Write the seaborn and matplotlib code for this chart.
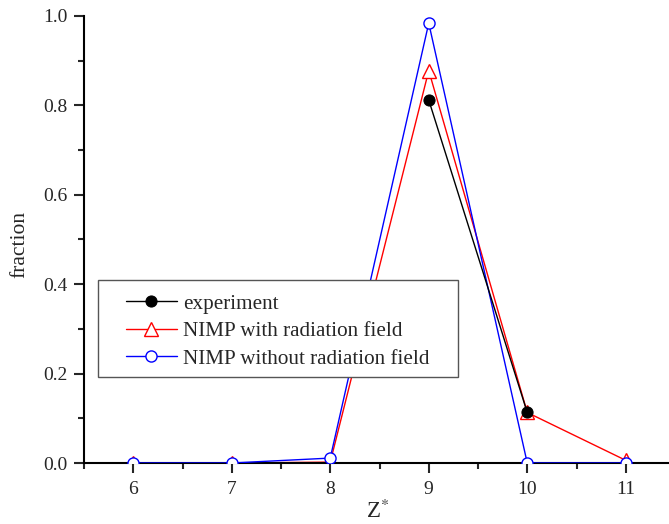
import matplotlib
matplotlib.use("Agg")
import matplotlib.pyplot as plt
import seaborn as sns
from matplotlib.ticker import MultipleLocator
from matplotlib.patches import Rectangle

# Data
exp_x = [9, 10]
exp_y = [0.812, 0.113]
rad_x = [6, 7, 8, 9, 10, 11]
rad_y = [0.0, 0.0, 0.002, 0.878, 0.113, 0.006]
norad_x = [6, 7, 8, 9, 10, 11]
norad_y = [0.0, 0.0, 0.011, 0.984, 0.0, 0.0]
labels = ["experiment", "NIMP with radiation field", "NIMP without radiation field"]
xticks = [6, 7, 8, 9, 10, 11]
yticks = [0.0, 0.2, 0.4, 0.6, 0.8, 1.0]

sns.set_theme(style="ticks")
plt.rcParams["font.family"] = ["Liberation Serif", "DejaVu Serif"]
plt.rcParams["mathtext.fontset"] = "stix"

W, H = 669, 524
L, R, T, B = 84, 675, 16, 463
fig = plt.figure(figsize=(W / 100, H / 100), dpi=100)
ax = fig.add_axes([L / W, 1 - B / H, (R - L) / W, (B - T) / H])

def ax_x(px):
    return (px - L) / (R - L)

def ax_y(py):
    return (B - py) / (B - T)

sns.lineplot(x=rad_x, y=rad_y, ax=ax, color="red", marker="^", markersize=10,
             markerfacecolor="white", markeredgecolor="red", markeredgewidth=1.0,
             linewidth=1.0, label=labels[1], zorder=2)
sns.lineplot(x=norad_x, y=norad_y, ax=ax, color="blue", marker="o", markersize=8,
             markerfacecolor="white", markeredgecolor="blue", markeredgewidth=1.0,
             linewidth=1.0, label=labels[2], zorder=3)
sns.lineplot(x=exp_x, y=exp_y, ax=ax, color="black", marker="o", markersize=8,
             markerfacecolor="black", markeredgecolor="black",
             linewidth=1.0, label=labels[0], zorder=4)
for ln in ax.lines:
    ln.set_clip_on(True)

ax.set_xlim(5.5, 11.5)
ax.set_ylim(0, 1.0)
ax.set_xticks(xticks)
ax.set_yticks(yticks)
ax.set_xticklabels([str(v) for v in xticks])
ax.set_yticklabels([f"{v:.1f}" for v in yticks])
ax.xaxis.set_minor_locator(MultipleLocator(0.5))
ax.yaxis.set_minor_locator(MultipleLocator(0.1))
ax.tick_params(which="major", direction="out", length=7, width=1.5, labelsize=14)
ax.tick_params(axis="x", which="major", pad=6)
ax.tick_params(axis="y", which="major", pad=5)
ax.tick_params(which="minor", direction="out", length=4.5, width=1.5)
for s in ["top", "right"]:
    ax.spines[s].set_visible(False)
for s in ["left", "bottom"]:
    ax.spines[s].set_linewidth(1.5)
    ax.spines[s].set_color("black")

ax.set_xlabel("Z$^{*}$", fontsize=16.5, va="baseline")
ax.xaxis.set_label_coords(ax_x(378), ax_y(518))
ax.set_ylabel("fraction", fontsize=15.5, va="center")
ax.yaxis.set_label_coords(ax_x(20), ax_y(245))

# legend frame
ax.add_patch(Rectangle((ax_x(98), ax_y(377)), ax_x(458) - ax_x(98), ax_y(280) - ax_y(377),
                       transform=ax.transAxes, facecolor="white", edgecolor="#555555",
                       linewidth=1.0, zorder=5, clip_on=False))

h, l = ax.get_legend_handles_labels()
order = [l.index(x) for x in labels]
leg = ax.legend([h[i] for i in order], [l[i] for i in order],
                loc="upper left", bbox_to_anchor=(ax_x(126), ax_y(294)),
                fontsize=15.2, frameon=False,
                handlelength=2.4, handletextpad=0.3, borderpad=0, labelspacing=0.36,
                borderaxespad=0)
leg.set_zorder(6)

fig.savefig("out.png", dpi=100)
